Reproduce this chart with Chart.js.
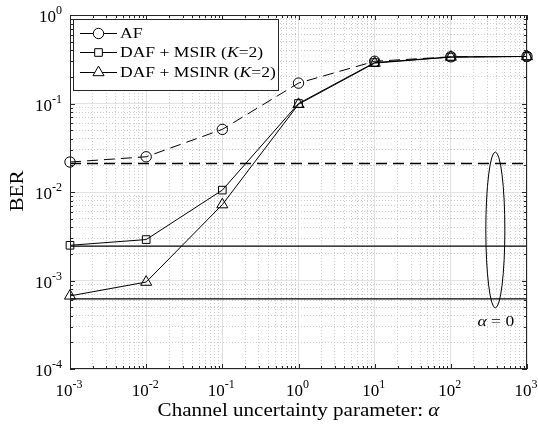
<!DOCTYPE html>
<html><head><meta charset="utf-8">
<script src="https://cdn.jsdelivr.net/npm/chart.js@4/dist/chart.umd.min.js"></script>
<style>html,body{margin:0;padding:0;background:#fff}</style>
</head><body>
<canvas id="c" width="538" height="425"></canvas>
<script>
// ---- data ----
const alpha = [1e-3, 1e-2, 1e-1, 1, 10, 100, 1000];
const berAF = [0.0218, 0.0250, 0.051, 0.17, 0.30, 0.337, 0.34];
const berMSIR = [0.0025, 0.0029, 0.0105, 0.100, 0.290, 0.335, 0.34];
const berMSINR = [0.00067, 0.00096, 0.0072, 0.098, 0.286, 0.335, 0.34];
const alpha0Range = [1e-3, 1e3];
const berAF0 = 0.021;
const berMSIR0 = 0.00245;
const berMSINR0 = 0.00062;
const seriesNames = ['AF', 'DAF + MSIR (K=2)', 'DAF + MSINR (K=2)'];
const xTickExps = [-3, -2, -1, 0, 1, 2, 3];
const yTickExps = [-4, -3, -2, -1, 0];
const xTitle = 'Channel uncertainty parameter: α';
const yTitle = 'BER';
const alpha0Label = 'α = 0';

// annotation placement (ellipse around alpha = 0 lines)
const ellipseAlpha = [288, 512];
const ellipseBer = [0.00049, 0.0283];
const labelAlpha = 390;
const labelBer = 0.00034;

const SERIF = '"Liberation Serif", "DejaVu Serif", serif';
const AXC = '#262626';
const HS = 1.17; // horizontal stretch approximating Computer Modern widths

function decadeVals(e0, e1) {
  const v = [];
  for (let e = e0; e < e1; e++) for (let m = 1; m <= 9; m++) v.push(m * Math.pow(10, e));
  v.push(Math.pow(10, e1));
  return v;
}
const isMajor = v => Math.abs(Math.log10(v) - Math.round(Math.log10(v))) < 1e-9;
const pts = ys => alpha.map((a, i) => ({x: a, y: ys[i]}));
const hline = y => alpha0Range.map(a => ({x: a, y: y}));

const common = {borderColor: '#000', borderWidth: 1, pointBackgroundColor: 'rgba(0,0,0,0)',
  pointBorderColor: '#000', pointBorderWidth: 1, showLine: true, pointHoverRadius: 0, clip: false};

const datasets = [
  Object.assign({}, common, {label: seriesNames[0], data: pts(berAF), borderDash: [11, 6], pointStyle: 'circle', pointRadius: 5.2}),
  Object.assign({}, common, {label: seriesNames[1], data: pts(berMSIR), pointStyle: 'rect', pointRadius: 5.4}),
  Object.assign({}, common, {label: seriesNames[2], data: pts(berMSINR), pointStyle: 'triangle', pointRadius: 6.4}),
  Object.assign({}, common, {label: 'AF α=0', data: hline(berAF0), borderDash: [11, 6], borderWidth: 1.3, pointRadius: 0}),
  Object.assign({}, common, {label: 'MSIR α=0', data: hline(berMSIR0), borderWidth: 1.3, pointRadius: 0}),
  Object.assign({}, common, {label: 'MSINR α=0', data: hline(berMSINR0), borderWidth: 1.3, pointRadius: 0})
];

function scaleCfg(minE, maxE, isX) {
  return {
    type: 'logarithmic', min: Math.pow(10, minE), max: Math.pow(10, maxE),
    afterBuildTicks: s => { s.ticks = decadeVals(minE, maxE).map(v => ({value: v})); },
    afterFit: s => { if (isX) s.height = 0; else s.width = 0; },
    ticks: {display: false},
    border: {display: false, dash: c => (c.tick && isMajor(c.tick.value)) ? [] : [1, 2]},
    grid: {drawTicks: false, lineWidth: 1,
      color: c => (c.tick && isMajor(c.tick.value)) ? '#e2e2e2' : '#cdcdcd'}
  };
}

function drawMixed(ctx, parts, x, y, size, align) {
  let total = 0;
  const ws = parts.map(p => { ctx.font = (p.italic ? 'italic ' : '') + size + 'px ' + SERIF; const w = ctx.measureText(p.t).width; total += w; return w; });
  total *= HS;
  let sx = align === 'center' ? x - total / 2 : (align === 'right' ? x - total : x);
  ctx.save();
  ctx.translate(sx, y);
  ctx.scale(HS, 1);
  ctx.textAlign = 'left';
  let cx = 0;
  parts.forEach((p, i) => { ctx.font = (p.italic ? 'italic ' : '') + size + 'px ' + SERIF; ctx.fillText(p.t, cx, 0); cx += ws[i]; });
  ctx.restore();
}
function splitItalic(str, ch) {
  const parts = [];
  let buf = '';
  for (const c of str) {
    if (c === ch) { if (buf) parts.push({t: buf}); parts.push({t: c, italic: true}); buf = ''; }
    else buf += c;
  }
  if (buf) parts.push({t: buf});
  return parts;
}

const deco = {
  id: 'deco',
  afterDatasetsDraw(chart) {
    const ctx = chart.ctx, a = chart.chartArea;
    const xs = chart.scales.x, ys = chart.scales.y;
    ctx.save();
    ctx.setLineDash([]);
    // ellipse + label
    const ex0 = xs.getPixelForValue(ellipseAlpha[0]), ex1 = xs.getPixelForValue(ellipseAlpha[1]);
    const ey0 = ys.getPixelForValue(ellipseBer[1]), ey1 = ys.getPixelForValue(ellipseBer[0]);
    ctx.strokeStyle = '#000'; ctx.lineWidth = 1;
    ctx.beginPath();
    ctx.ellipse((ex0 + ex1) / 2, (ey0 + ey1) / 2, (ex1 - ex0) / 2, (ey1 - ey0) / 2, 0, 0, Math.PI * 2);
    ctx.stroke();
    ctx.fillStyle = '#000'; ctx.textBaseline = 'middle';
    drawMixed(ctx, splitItalic(alpha0Label, 'α'), xs.getPixelForValue(labelAlpha), ys.getPixelForValue(labelBer), 15, 'center');

    // axes box
    ctx.strokeStyle = AXC; ctx.lineWidth = 1;
    ctx.strokeRect(Math.round(a.left) + 0.5, Math.round(a.top) + 0.5, Math.round(a.right - a.left) - 1, Math.round(a.bottom - a.top) - 1);
    // inside ticks
    ctx.beginPath();
    decadeVals(xTickExps[0], xTickExps[xTickExps.length - 1]).forEach(v => {
      const p = Math.round(xs.getPixelForValue(v)) + 0.5, L = isMajor(v) ? 5 : 3;
      ctx.moveTo(p, a.bottom); ctx.lineTo(p, a.bottom - L);
      ctx.moveTo(p, a.top); ctx.lineTo(p, a.top + L);
    });
    decadeVals(yTickExps[0], yTickExps[yTickExps.length - 1]).forEach(v => {
      const p = Math.round(ys.getPixelForValue(v)) + 0.5, L = isMajor(v) ? 5 : 3;
      ctx.moveTo(a.left, p); ctx.lineTo(a.left + L, p);
      ctx.moveTo(a.right, p); ctx.lineTo(a.right - L, p);
    });
    ctx.stroke();

    // tick labels
    ctx.fillStyle = '#000'; ctx.textBaseline = 'alphabetic'; ctx.textAlign = 'left';
    const big = 17, small = 12;
    xTickExps.forEach(e => {
      const px = xs.getPixelForValue(Math.pow(10, e));
      ctx.font = big + 'px ' + SERIF; const w1 = ctx.measureText('10').width;
      ctx.font = small + 'px ' + SERIF; const w2 = ctx.measureText(String(e)).width;
      const x0 = px - (w1 + w2) / 2 - 1;
      ctx.font = big + 'px ' + SERIF; ctx.fillText('10', x0, a.bottom + 27);
      ctx.font = small + 'px ' + SERIF; ctx.fillText(String(e), x0 + w1, a.bottom + 19);
    });
    yTickExps.forEach(e => {
      const py = ys.getPixelForValue(Math.pow(10, e));
      ctx.font = big + 'px ' + SERIF; const w1 = ctx.measureText('10').width;
      ctx.font = small + 'px ' + SERIF; const w2 = ctx.measureText(String(e)).width;
      const x0 = a.left - 8 - w1 - w2;
      ctx.font = big + 'px ' + SERIF; ctx.fillText('10', x0, py + 7);
      ctx.font = small + 'px ' + SERIF; ctx.fillText(String(e), x0 + w1, py - 1);
    });
    // axis titles
    ctx.textBaseline = 'alphabetic';
    drawMixed(ctx, splitItalic(xTitle, 'α'), (a.left + a.right) / 2, a.bottom + 47, 18, 'center');
    ctx.save();
    ctx.translate(23, 191);
    ctx.rotate(-Math.PI / 2);
    drawMixed(ctx, [{t: yTitle}], 0, 0, 18, 'center');
    ctx.restore();

    // legend
    const lx = 73, ly = 19, lw = 205, lh = 71;
    ctx.fillStyle = '#fff'; ctx.fillRect(lx, ly, lw, lh);
    ctx.strokeStyle = AXC; ctx.lineWidth = 1; ctx.strokeRect(lx + 0.5, ly + 0.5, lw, lh);
    const rows = [ly + 14, ly + 33, ly + 53];
    for (let i = 0; i < 3; i++) {
      const ds = chart.data.datasets[i];
      const y = rows[i];
      ctx.strokeStyle = '#000'; ctx.lineWidth = 1; ctx.setLineDash([]);
      ctx.beginPath(); ctx.moveTo(80, y + 0.5); ctx.lineTo(117, y + 0.5); ctx.stroke();
      ctx.fillStyle = '#fff';
      Chart.helpers.drawPoint(ctx, {pointStyle: ds.pointStyle, radius: ds.pointRadius, borderWidth: 1, rotation: 0}, 98.5, y + 0.5);
      ctx.fillStyle = '#000'; ctx.textBaseline = 'middle';
      drawMixed(ctx, splitItalic(ds.label, 'K'), 120, y + 1, 15, 'left');
    }
    ctx.restore();
  }
};

new Chart(document.getElementById('c'), {
  type: 'scatter',
  data: {datasets},
  options: {
    responsive: false, animation: false, devicePixelRatio: 1,
    layout: {padding: {left: 70, right: 11, top: 15, bottom: 56}},
    scales: {x: scaleCfg(-3, 3, true), y: scaleCfg(-4, 0, false)},
    plugins: {legend: {display: false}, tooltip: {enabled: false}},
    events: []
  },
  plugins: [deco]
});
</script>
</body></html>
